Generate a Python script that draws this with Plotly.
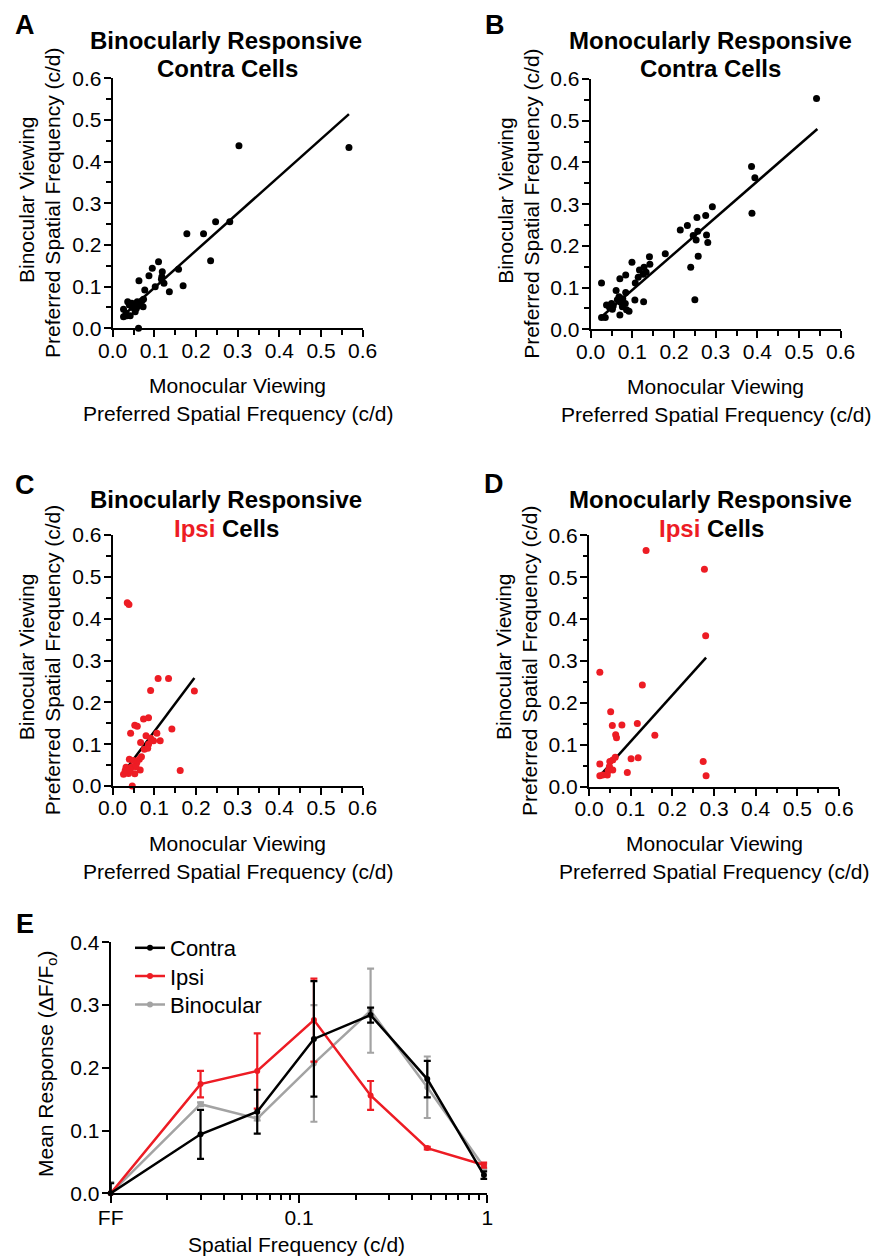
import plotly.graph_objects as go

# The page puts the plot 8px from the top-left corner, so work in page pixels
OFF = 8
W, H = 896 - OFF, 1256 - OFF
def px(x): return (x - OFF) / W
def py(y): return 1 - (y - OFF) / H

RED = '#ED1C24'
GREY = '#A3A3A3'
FONT = 'Liberation Sans, Arial, sans-serif'

# ---------------- data ----------------
SC_TICKS = [0.0, 0.1, 0.2, 0.3, 0.4, 0.5, 0.6]
SC_TICKTEXT = ['0.0', '0.1', '0.2', '0.3', '0.4', '0.5', '0.6']

# Panel A: binocularly responsive contra cells (monocular x, binocular y)
A_mono = [0.303, 0.567, 0.178, 0.218, 0.247, 0.281, 0.235, 0.158, 0.169, 0.136,
          0.110, 0.095, 0.087, 0.119, 0.118, 0.117, 0.123, 0.102, 0.077, 0.063,
          0.074, 0.070, 0.073, 0.060, 0.057, 0.051, 0.047, 0.046, 0.036, 0.054,
          0.042, 0.034, 0.026, 0.026, 0.032, 0.062, 0.040, 0.059]
A_bino = [0.438, 0.434, 0.227, 0.227, 0.256, 0.256, 0.162, 0.142, 0.102, 0.088,
          0.160, 0.144, 0.126, 0.136, 0.124, 0.118, 0.108, 0.100, 0.092, 0.114,
          0.070, 0.066, 0.052, 0.054, 0.048, 0.056, 0.050, 0.060, 0.064, 0.040,
          0.030, 0.030, 0.028, 0.046, 0.036, 0.000, 0.056, 0.064]
A_fit_x = [0.030, 0.567]
A_fit_y = [0.035, 0.514]

# Panel B: monocularly responsive contra cells
B_mono = [0.542, 0.386, 0.394, 0.387, 0.292, 0.276, 0.255, 0.278, 0.281, 0.257,
          0.246, 0.253, 0.258, 0.240, 0.250, 0.232, 0.215, 0.179, 0.141, 0.142,
          0.128, 0.117, 0.133, 0.126, 0.114, 0.107, 0.099, 0.084, 0.070, 0.026,
          0.061, 0.084, 0.106, 0.127, 0.068, 0.077, 0.072, 0.064, 0.083, 0.086,
          0.092, 0.070, 0.076, 0.054, 0.050, 0.038, 0.045, 0.052, 0.026, 0.035]
B_bino = [0.553, 0.390, 0.363, 0.278, 0.294, 0.273, 0.268, 0.226, 0.208, 0.235,
          0.225, 0.214, 0.175, 0.149, 0.071, 0.249, 0.238, 0.181, 0.174, 0.156,
          0.149, 0.142, 0.137, 0.132, 0.125, 0.111, 0.161, 0.130, 0.121, 0.111,
          0.093, 0.088, 0.070, 0.066, 0.078, 0.073, 0.065, 0.071, 0.062, 0.047,
          0.043, 0.034, 0.054, 0.056, 0.062, 0.058, 0.053, 0.048, 0.028, 0.028]
B_fit_x = [0.026, 0.544]
B_fit_y = [0.030, 0.480]

# Panel C: binocularly responsive ipsi cells
C_mono = [0.035, 0.039, 0.109, 0.134, 0.091, 0.196, 0.074, 0.086, 0.053, 0.059,
          0.043, 0.142, 0.106, 0.080, 0.091, 0.098, 0.114, 0.067, 0.086, 0.076,
          0.084, 0.162, 0.047, 0.040, 0.069, 0.064, 0.058, 0.050, 0.066, 0.053,
          0.032, 0.026, 0.038, 0.046, 0.056, 0.030, 0.042]
C_bino = [0.438, 0.434, 0.257, 0.257, 0.228, 0.227, 0.160, 0.163, 0.145, 0.143,
          0.126, 0.136, 0.126, 0.120, 0.114, 0.108, 0.108, 0.104, 0.100, 0.088,
          0.090, 0.037, 0.000, 0.064, 0.070, 0.064, 0.056, 0.061, 0.038, 0.029,
          0.045, 0.028, 0.030, 0.046, 0.046, 0.037, 0.038]
C_fit_x = [0.038, 0.196]
C_fit_y = [0.048, 0.258]

# Panel D: monocularly responsive ipsi cells
D_mono = [0.137, 0.277, 0.280, 0.026, 0.128, 0.052, 0.056, 0.079, 0.116, 0.064,
          0.066, 0.158, 0.026, 0.274, 0.281, 0.101, 0.118, 0.092, 0.063, 0.057,
          0.050, 0.049, 0.057, 0.046, 0.044, 0.026, 0.033]
D_bino = [0.564, 0.519, 0.360, 0.273, 0.243, 0.179, 0.146, 0.147, 0.151, 0.124,
          0.117, 0.123, 0.054, 0.060, 0.026, 0.067, 0.069, 0.034, 0.070, 0.064,
          0.060, 0.048, 0.040, 0.038, 0.028, 0.026, 0.028]
D_fit_x = [0.025, 0.281]
D_fit_y = [0.025, 0.308]

# Panel E: mean response vs spatial frequency (FF plotted at 0.01)
E_sf = [0.01, 0.03, 0.06, 0.12, 0.24, 0.48, 0.96]
E_tickvals = [0.01, 0.1, 1]
E_ticktext = ['FF', '0.1', '1']
E_minor = [0.02, 0.03, 0.04, 0.05, 0.06, 0.07, 0.08, 0.09,
           0.2, 0.3, 0.4, 0.5, 0.6, 0.7, 0.8, 0.9]
contra_mean = [0.000, 0.094, 0.130, 0.246, 0.284, 0.182, 0.029]
contra_err = [0.016, 0.039, 0.035, 0.092, 0.012, 0.029, 0.006]
ipsi_mean = [0.000, 0.174, 0.195, 0.276, 0.156, 0.072, 0.045]
ipsi_err = [0.000, 0.021, 0.060, 0.066, 0.023, 0.002, 0.004]
bino_mean = [0.000, 0.142, 0.119, 0.207, 0.291, 0.169, 0.042]
bino_err = [0.018, 0.003, 0.003, 0.093, 0.067, 0.049, 0.004]
E_yticks = [0.0, 0.1, 0.2, 0.3, 0.4]
E_yticktext = ['0.0', '0.1', '0.2', '0.3', '0.4']

# ---------------- figure ----------------
fig = go.Figure()

def add_scatter(xs, ys, fx, fy, color, n):
    xa = 'x' if n == 1 else 'x%d' % n
    ya = 'y' if n == 1 else 'y%d' % n
    fig.add_trace(go.Scatter(x=fx, y=fy, mode='lines', line=dict(color='black', width=2.5),
                             xaxis=xa, yaxis=ya, showlegend=False, hoverinfo='skip'))
    fig.add_trace(go.Scatter(x=xs, y=ys, mode='markers', marker=dict(color=color, size=7),
                             xaxis=xa, yaxis=ya, showlegend=False, cliponaxis=False))

add_scatter(A_mono, A_bino, A_fit_x, A_fit_y, 'black', 1)
add_scatter(B_mono, B_bino, B_fit_x, B_fit_y, 'black', 2)
add_scatter(C_mono, C_bino, C_fit_x, C_fit_y, RED, 3)
add_scatter(D_mono, D_bino, D_fit_x, D_fit_y, RED, 4)

def add_line(y, err, color, name, leg):
    fig.add_trace(go.Scatter(x=E_sf, y=y, mode='lines+markers', name=name,
                             line=dict(color=color, width=2.5),
                             marker=dict(color=color, size=6),
                             error_y=dict(type='data', array=err, color=color, thickness=2.2, width=3.5),
                             xaxis='x5', yaxis='y5', cliponaxis=False, legend=leg))

add_line(bino_mean, bino_err, GREY, 'Binocular', 'legend3')
add_line(ipsi_mean, ipsi_err, RED, 'Ipsi', 'legend2')
add_line(contra_mean, contra_err, 'black', 'Contra', 'legend')

def sc_axis(d0, d1, anchor, standoff):
    return dict(domain=[d0, d1], anchor=anchor, range=[0, 0.6],
                showline=True, linewidth=2, linecolor='black',
                ticks='outside', ticklen=7, tickwidth=2, tickcolor='black',
                tickmode='array', tickvals=SC_TICKS, ticktext=SC_TICKTEXT,
                minor=dict(ticks='outside', ticklen=4.5, tickwidth=2, tickcolor='black',
                           tickmode='linear', tick0=0, dtick=0.05),
                showgrid=False, zeroline=False, ticklabelstandoff=standoff,
                tickfont=dict(size=21, color='black', family=FONT), fixedrange=True)

# pixel geometry of the panels (page pixels)
A_x = (112.7, 362.7); A_y = (78.3, 328.3)
B_x = (590.7, 840.7); B_y = (79.0, 329.3)
C_x = (112.7, 362.7); C_y = (535.0, 786.0)
D_x = (589.0, 839.0); D_y = (535.3, 786.7)
E_x = (110.7, 487.3); E_y = (942.3, 1193.3)

def leg(top):
    return dict(x=px(130), y=py(top), xanchor='left', yanchor='top',
                bgcolor='rgba(0,0,0,0)', font=dict(size=22, color='black', family=FONT),
                itemwidth=30)

layout = dict(
    width=W, height=H, margin=dict(l=0, r=0, t=0, b=0, autoexpand=False),
    paper_bgcolor='white', plot_bgcolor='white',
    font=dict(family=FONT, color='black', size=21),
    xaxis=sc_axis(px(A_x[0]), px(A_x[1]), 'y', -5),
    yaxis=sc_axis(py(A_y[1]), py(A_y[0]), 'x', -2),
    xaxis2=sc_axis(px(B_x[0]), px(B_x[1]), 'y2', -5),
    yaxis2=sc_axis(py(B_y[1]), py(B_y[0]), 'x2', -2),
    xaxis3=sc_axis(px(C_x[0]), px(C_x[1]), 'y3', -5),
    yaxis3=sc_axis(py(C_y[1]), py(C_y[0]), 'x3', -2),
    xaxis4=sc_axis(px(D_x[0]), px(D_x[1]), 'y4', -5),
    yaxis4=sc_axis(py(D_y[1]), py(D_y[0]), 'x4', -2),
    xaxis5=dict(domain=[px(E_x[0]), px(E_x[1])], anchor='y5', type='log', range=[-2, 0],
                showline=True, linewidth=2, linecolor='black',
                ticks='outside', ticklen=8, tickwidth=2, tickcolor='black',
                tickmode='array', tickvals=E_tickvals, ticktext=E_ticktext,
                minor=dict(ticks='outside', ticklen=4.5, tickwidth=2, tickcolor='black',
                           tickmode='array', tickvals=E_minor),
                showgrid=False, zeroline=False, ticklabelstandoff=-4,
                tickfont=dict(size=21, color='black', family=FONT), fixedrange=True),
    yaxis5=dict(domain=[py(E_y[1]), py(E_y[0])], anchor='x5', range=[0, 0.4],
                showline=True, linewidth=2, linecolor='black',
                ticks='outside', ticklen=7, tickwidth=2, tickcolor='black',
                tickmode='array', tickvals=E_yticks, ticktext=E_yticktext,
                showgrid=False, zeroline=False, ticklabelstandoff=-2,
                tickfont=dict(size=21, color='black', family=FONT), fixedrange=True),
    legend=leg(927),
    legend2=leg(955.3),
    legend3=leg(983.6),
    showlegend=True,
)
fig.update_layout(**layout)

ann = []
def text(x, y, s, size=21, bold=False, angle=0):
    if bold:
        s = '<b>' + s + '</b>'
    ann.append(dict(x=px(x), y=py(y), xref='paper', yref='paper', text=s, showarrow=False,
                    xanchor='center', yanchor='middle', textangle=angle,
                    font=dict(size=size, color='black', family=FONT)))

ipsi = "<span style='color:%s'>Ipsi</span> Cells" % RED

# panel letters
text(25, 25, 'A', 27, True)
text(495, 25, 'B', 27, True)
text(25, 485, 'C', 27, True)
text(494, 484, 'D', 27, True)
text(25, 924, 'E', 27, True)

# panel titles
text(226, 40, 'Binocularly Responsive', 24, True)
text(227, 68, 'Contra Cells', 24, True)
text(710, 40, 'Monocularly Responsive', 24, True)
text(710, 68, 'Contra Cells', 24, True)
text(226, 500, 'Binocularly Responsive', 24, True)
text(226, 528, ipsi, 24, True)
text(710, 500, 'Monocularly Responsive', 24, True)
text(711, 528, ipsi, 24, True)

# axis titles (scatter panels)
for (xr, yr) in [(A_x, A_y), (B_x, B_y), (C_x, C_y), (D_x, D_y)]:
    cx = (xr[0] + xr[1]) / 2
    cy = (yr[0] + yr[1]) / 2
    text(cx, yr[1] + 57, 'Monocular Viewing')
    text(cx, yr[1] + 85, 'Preferred Spatial Frequency (c/d)')
    text(xr[0] - 86, cy - 4, 'Binocular Viewing', angle=-90)
    text(xr[0] - 60, cy, 'Preferred Spatial Frequency (c/d)', angle=-90)

# panel E titles
text(47, 1064, 'Mean Response (ΔF/F<sub>o</sub>)', angle=-90)
text(296, 1244, 'Spatial Frequency (c/d)')

fig.update_layout(annotations=ann)
fig.write_html('out.html')
